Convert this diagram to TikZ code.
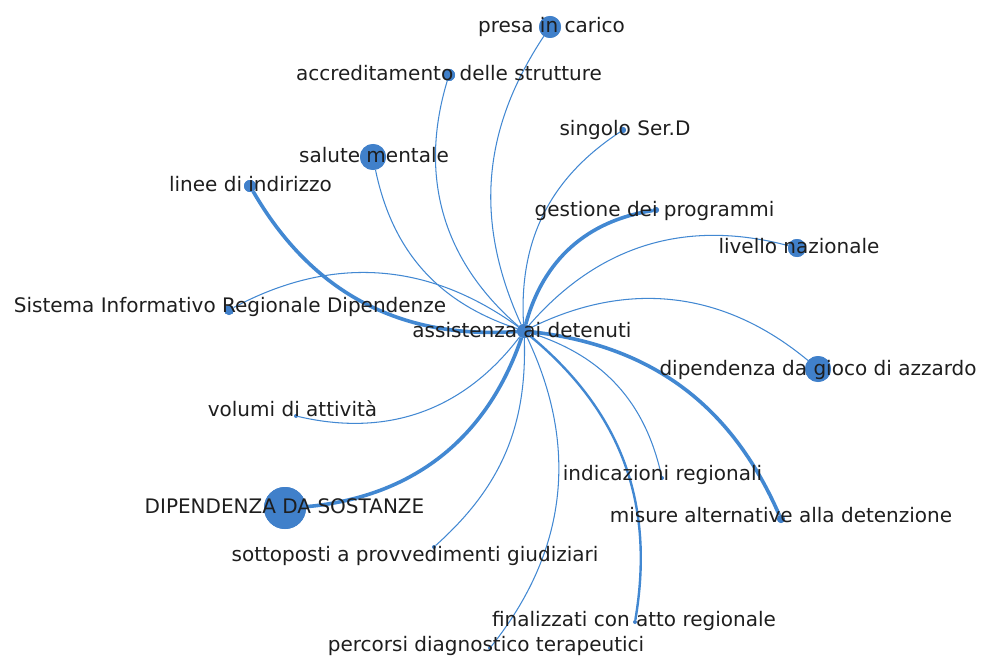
\documentclass[tikz,border=0pt]{standalone}
\usepackage{fontspec}
\setmainfont{DejaVu Sans}
\definecolor{nodeblue}{RGB}{64,128,202}
\definecolor{edgeblue}{RGB}{66,136,210}
\definecolor{labelgray}{RGB}{30,30,30}
\tikzset{
  dot/.style={circle, fill=nodeblue, draw=none, inner sep=0pt, minimum size=#1},
  lab/.style={text=labelgray, font=\fontsize{20}{24}\selectfont, anchor=base, inner sep=0pt},
  thinedge/.style={draw=edgeblue, line width=1.05pt},
  midedge/.style={draw=edgeblue, line width=2.4pt},
  thickedge/.style={draw=edgeblue, line width=3.6pt},
}
\begin{document}
\begin{tikzpicture}[x=1pt,y=-1pt]
\useasboundingbox (0,0) rectangle (981,655);
% nodes (dots)
\node[dot=14pt] (c) at (524,331) {};
\node[dot=22pt] (presa) at (550,27) {};
\node[dot=12pt] (accr) at (449,75) {};
\node[dot=6pt] (sing) at (623,130) {};
\node[dot=26pt] (salute) at (373,157) {};
\node[dot=12pt] (linee) at (250,186) {};
\node[dot=6pt] (gest) at (656,210) {};
\node[dot=18pt] (liv) at (797,248) {};
\node[dot=10pt] (sist) at (229,310) {};
\node[dot=26pt] (gioco) at (818,369) {};
\node[dot=4pt] (vol) at (296,416) {};
\node[dot=4pt] (ind) at (662,478) {};
\node[dot=42pt] (dip) at (285,508) {};
\node[dot=8pt] (mis) at (781,519) {};
\node[dot=4pt] (sott) at (434,547) {};
\node[dot=4pt] (fin) at (635,622) {};
\node[dot=4pt] (perc) at (490,648) {};
% edges
\path[thinedge] (c) to[bend left=29] (presa);
\path[thinedge] (c) to[bend left=33] (accr);
\path[thinedge] (c) to[bend left=30] (sing);
\path[thinedge] (c) to[bend left=30] (salute);
\path[thickedge] (c) to[bend left=32] (linee);
\path[thickedge] (c) to[bend left=33] (gest);
\path[thinedge] (c) to[bend left=32] (liv);
\path[thinedge] (c) to[bend right=32] (sist);
\path[thinedge] (c) to[bend left=33] (gioco);
\path[thinedge] (c) to[bend left=33] (vol);
\path[thinedge] (c) to[bend left=30] (ind);
\path[thickedge] (c) to[bend left=33] (dip);
\path[thickedge] (c) to[bend left=30] (mis);
\path[thinedge] (c) to[bend left=25] (sott);
\path[midedge] (c) to[bend left=30] (fin);
\path[thinedge] (c) to[bend left=32] (perc);
% redraw dots above edges
\foreach \n/\s in {c/14,presa/22,accr/12,sing/6,salute/26,linee/12,gest/6,liv/18,sist/10,gioco/26,dip/42,mis/8}
  {\fill[nodeblue] (\n.center) circle (\s/2);}
% labels
\node[lab] (presa-l) at (551.5,33) {presa in carico};
\node[lab] (accr-l) at (449,81) {accreditamento delle strutture};
\node[lab] (sing-l) at (625,136) {singolo Ser.D};
\node[lab] (salute-l) at (374,163) {salute mentale};
\node[lab] (linee-l) at (250.5,191) {linee di indirizzo};
\node[lab] (gest-l) at (654.5,216) {gestione dei programmi};
\node[lab] (liv-l) at (799,253) {livello nazionale};
\node[lab] (sist-l) at (230,312) {Sistema Informativo Regionale Dipendenze};
\node[lab] (c-l) at (522,337) {assistenza ai detenuti};
\node[lab] (gioco-l) at (818,375) {dipendenza da gioco di azzardo};
\node[lab] (vol-l) at (292.5,416) {volumi di attività};
\node[lab] (ind-l) at (662.5,480) {indicazioni regionali};
\node[lab] (dip-l) at (284.5,513) {DIPENDENZA DA SOSTANZE};
\node[lab] (mis-l) at (781,522) {misure alternative alla detenzione};
\node[lab] (sott-l) at (415,561) {sottoposti a provvedimenti giudiziari};
\node[lab] (fin-l) at (634,626) {finalizzati con atto regionale};
\node[lab] (perc-l) at (486,651) {percorsi diagnostico terapeutici};
\end{tikzpicture}
\end{document}
